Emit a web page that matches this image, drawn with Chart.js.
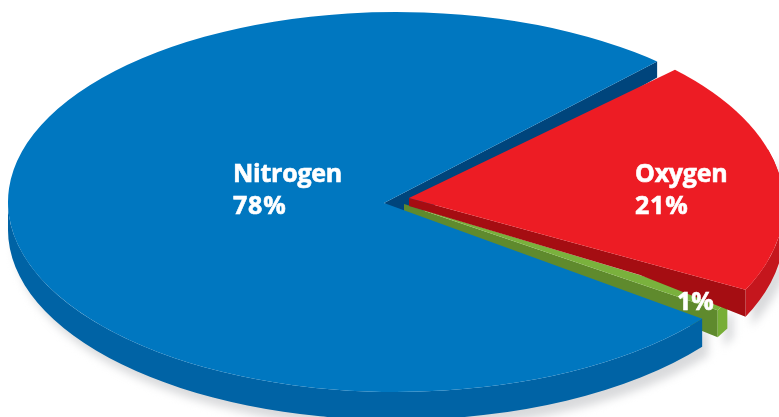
<!DOCTYPE html>
<html><head><meta charset="utf-8">
<style>html,body{margin:0;padding:0;background:#fff;overflow:hidden}canvas{display:block}</style>
<script src="https://cdn.jsdelivr.net/npm/chart.js@4"></script>
</head><body><canvas id="c" width="779" height="417"></canvas>
<script>
const categories = ['Nitrogen', 'Oxygen', 'Argon'];
const percentages = [78, 21, 1];
const shownNames = ['Nitrogen', 'Oxygen', ''];
const colours = ['#0077c0', '#ed1c24', '#7ab13d'];

const DEG = Math.PI / 180;
const look = [
  {cx:396, cy:202, rx:388, ry:190, apex:[384,203], trimStart:3.2, trimEnd:3.2, depth:28, side:'#0063a5'},
  {cx:418, cy:205, rx:366, ry:190, apex:[409,198], trimStart:-0.9, trimEnd:4.6, depth:27, side:'#c5161d',
   wallStart:[[409,206],[640,275]], wallColour:'#a50d12'},
  {cx:400, cy:205, rx:375, ry:198, apex:[404,204], trimStart:-1.9, trimEnd:2.6, depth:27, side:'#77ae36',
   wallStart:[[404,211]], wallColour:'#5f8a2d'}
];
const textSpots = [[233,182],[635,182],[677,310]];

function point(s, a){ return [s.cx + s.rx*Math.cos(a), s.cy + s.ry*Math.sin(a)]; }
function poly(ctx, pts, fill){
  ctx.beginPath(); pts.forEach((p,i)=> i?ctx.lineTo(p[0],p[1]):ctx.moveTo(p[0],p[1]));
  ctx.closePath(); ctx.fillStyle = fill; ctx.fill();
}
function topFace(ctx, s, a0, a1, fill){
  ctx.beginPath(); ctx.moveTo(s.apex[0], s.apex[1]);
  ctx.ellipse(s.cx, s.cy, s.rx, s.ry, 0, a0, a1);
  ctx.closePath(); ctx.fillStyle = fill; ctx.fill();
}
function rimBand(ctx, s, a0, a1, fill){
  ctx.beginPath();
  ctx.ellipse(s.cx, s.cy, s.rx, s.ry, 0, a0, a1);
  ctx.ellipse(s.cx, s.cy + s.depth, s.rx, s.ry, 0, a1, a0, true);
  ctx.closePath(); ctx.fillStyle = fill; ctx.fill();
}
// cut face running from the apex to the rim corner at the given angle
function cutFace(ctx, s, a){
  const c = point(s, a);
  poly(ctx, [s.apex, c, [c[0], c[1]+s.depth], ...s.wallStart.slice().reverse()], s.wallColour);
}

const pie3d = {
  id:'pie3d',
  beforeDatasetDraw(){ return false; },
  afterDatasetsDraw(chart){
    const ctx = chart.ctx, arcs = chart.getDatasetMeta(0).data;
    const span = arcs.map((e,i)=>[e.startAngle + look[i].trimStart*DEG, e.endAngle - look[i].trimEnd*DEG]);
    const [bS,rS,gS] = look;
    const [bA,rA,gA] = span;
    const TAU = 2*Math.PI;
    ctx.save();
    // soft ground shadow
    ctx.save();
    ctx.filter = 'blur(4px)';
    ctx.translate(6,9);
    rimBand(ctx, bS, bA[0], Math.PI, '#d9dadc');
    rimBand(ctx, gS, gA[0], gA[1], '#d9dadc');
    rimBand(ctx, rS, TAU - 0.3, rA[1], '#d9dadc');
    ctx.restore();
    // blue cut face seen above the red slice
    const bEnd = point(bS, bA[1]);
    poly(ctx, [bS.apex, bEnd, [bEnd[0], bEnd[1]+16], [420,213], [400,213]], '#00457c');
    // green slice
    cutFace(ctx, gS, gA[1]);
    topFace(ctx, gS, gA[0], gA[1], colours[2]);
    const g0 = point(gS, gA[0]), g1 = point(gS, gA[1]);
    poly(ctx, [g0, g1, [g1[0],g1[1]+gS.depth], [g0[0],g0[1]+gS.depth]], gS.side);
    // blue slice
    rimBand(ctx, bS, bA[0], Math.PI, bS.side);
    topFace(ctx, bS, bA[0], bA[1], colours[0]);
    // red slice
    rimBand(ctx, rS, TAU - 0.3, rA[1], rS.side);
    cutFace(ctx, rS, rA[1]);
    topFace(ctx, rS, rA[0], rA[1], colours[1]);
    // labels
    ctx.fillStyle = '#fff';
    ctx.strokeStyle = '#fff';
    ctx.lineWidth = 0.6;
    ctx.font = 'bold 25px "Open Sans"';
    ctx.textAlign = 'left'; ctx.textBaseline = 'alphabetic';
    const put = (t,x,y,sp)=>{ ctx.letterSpacing = sp; ctx.fillText(t,x,y); ctx.strokeText(t,x,y); };
    percentages.forEach((v,i)=>{
      const [x,y] = textSpots[i];
      if (shownNames[i]) {
        put(shownNames[i], x, y, '-0.25px');
        put(v + '%', x, y + 32, '0.8px');
      } else {
        put(v + '%', x, y, '0px');
      }
    });
    ctx.restore();
  }
};

new Chart(document.getElementById('c'), {
  type:'pie',
  data:{labels:categories, datasets:[{data:percentages, backgroundColor:colours, borderWidth:0}]},
  options:{
    responsive:false, animation:false, rotation:124.7,
    plugins:{legend:{display:false}, tooltip:{enabled:false}}
  },
  plugins:[pie3d]
});
</script></body></html>
